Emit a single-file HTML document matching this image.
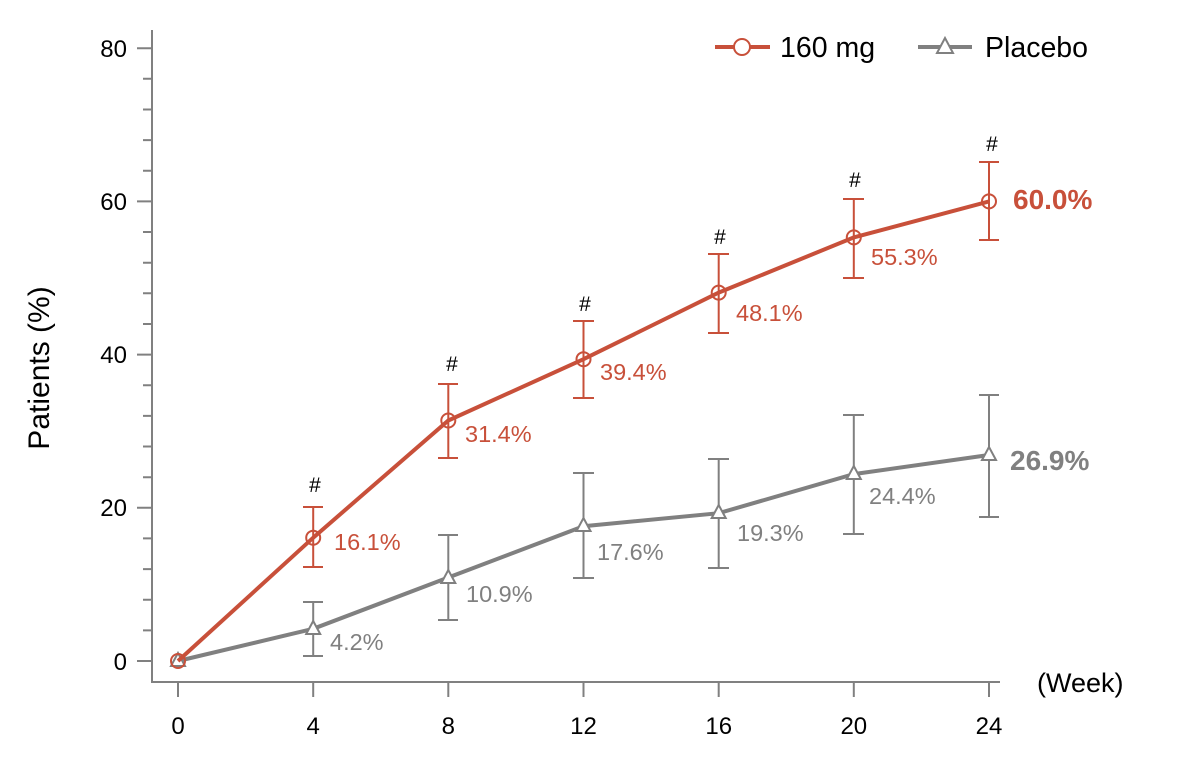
<!DOCTYPE html>
<html><head><meta charset="utf-8"><style>
html,body{margin:0;padding:0;background:#fff;}
svg{display:block;font-family:"Liberation Sans",sans-serif;}
</style></head><body>
<svg width="1194" height="758" viewBox="0 0 1194 758" xmlns="http://www.w3.org/2000/svg">
<g stroke="#808080" stroke-width="2" fill="none">
<path d="M152,30 V682 H1000"/>
<path d="M137,48.2H152 M137,201.4H152 M137,354.6H152 M137,507.8H152 M137,661H152"/>
<path d="M143,78.8H152 M143,109.5H152 M143,140.1H152 M143,170.8H152 M143,232H152 M143,262.7H152 M143,293.3H152 M143,324H152 M143,385.2H152 M143,415.9H152 M143,446.5H152 M143,477.2H152 M143,538.4H152 M143,569.1H152 M143,599.7H152 M143,630.4H152"/>
<path d="M178,682V697 M313.2,682V697 M448.3,682V697 M583.5,682V697 M718.7,682V697 M853.8,682V697 M989,682V697"/>
</g>
<g font-size="24" fill="#000" text-anchor="end">
<text x="127" y="57">80</text><text x="127" y="210">60</text><text x="127" y="363">40</text><text x="127" y="516">20</text><text x="127" y="670">0</text>
</g>
<g font-size="24" fill="#000" text-anchor="middle">
<text x="178" y="734">0</text><text x="313.2" y="734">4</text><text x="448.3" y="734">8</text><text x="583.5" y="734">12</text><text x="718.7" y="734">16</text><text x="853.8" y="734">20</text><text x="989" y="734">24</text>
</g>
<text x="1037" y="692" font-size="27" fill="#000">(Week)</text>
<text transform="translate(49,368) rotate(-90)" text-anchor="middle" font-size="30" fill="#000">Patients (%)</text>

<g stroke="#808080" stroke-width="2" fill="none">
<path d="M313.2,602V656 M303,602H323 M303,656H323"/>
<path d="M448.3,535V620 M438,535H458 M438,620H458"/>
<path d="M583.5,473V578 M573,473H594 M573,578H594"/>
<path d="M718.7,459V568 M708,459H729 M708,568H729"/>
<path d="M853.8,415V534 M843,415H864 M843,534H864"/>
<path d="M989,395V517 M979,395H999 M979,517H999"/>
</g>
<polyline points="178,661 313.2,628.8 448.3,577.5 583.5,526.2 718.7,513.2 853.8,474.1 989,455" stroke="#808080" stroke-width="4" fill="none"/>
<g stroke="#808080" stroke-width="2" fill="#fff">
<path d="M178,653 l-7,13 h14z"/><path d="M313.2,621 l-7,13 h14z"/><path d="M448.3,570 l-7,13 h14z"/><path d="M583.5,518 l-7,13 h14z"/><path d="M718.7,505 l-7,13 h14z"/><path d="M853.8,466 l-7,13 h14z"/><path d="M989,447 l-7,13 h14z"/>
</g>

<g stroke="#c8503a" stroke-width="2" fill="none">
<path d="M313.2,507V567 M303,507H323 M303,567H323"/>
<path d="M448.3,384V458 M438,384H458 M438,458H458"/>
<path d="M583.5,321V398 M573,321H594 M573,398H594"/>
<path d="M718.7,254V333 M708,254H729 M708,333H729"/>
<path d="M853.8,199V278 M843,199H864 M843,278H864"/>
<path d="M989,162V240 M979,162H999 M979,240H999"/>
</g>
<polyline points="178,661 313.2,537.7 448.3,420.5 583.5,359.2 718.7,292.6 853.8,237.4 989,201.4" stroke="#c8503a" stroke-width="4" fill="none"/>
<g stroke="#c8503a" stroke-width="2" fill="none">
<circle cx="178" cy="661" r="7"/><circle cx="313.2" cy="537.7" r="7"/><circle cx="448.3" cy="420.5" r="7"/><circle cx="583.5" cy="359.2" r="7"/><circle cx="718.7" cy="292.6" r="7"/><circle cx="853.8" cy="237.4" r="7"/><circle cx="989" cy="201.4" r="7"/>
</g>

<g font-size="21" fill="#000" text-anchor="middle">
<text x="315" y="492">#</text><text x="452" y="371">#</text><text x="585" y="311">#</text><text x="720" y="244">#</text><text x="855" y="187">#</text><text x="992" y="151">#</text>
</g>
<g font-size="23.5" fill="#c8503a">
<text x="334" y="550">16.1%</text><text x="465" y="442">31.4%</text><text x="600" y="380">39.4%</text><text x="736" y="321">48.1%</text><text x="871" y="265">55.3%</text>
<text x="1013" y="209" font-size="28" font-weight="bold">60.0%</text>
</g>
<g font-size="23.5" fill="#808080">
<text x="330" y="650">4.2%</text><text x="466" y="602">10.9%</text><text x="597" y="560">17.6%</text><text x="737" y="541">19.3%</text><text x="869" y="504">24.4%</text>
<text x="1010" y="470" font-size="28" font-weight="bold">26.9%</text>
</g>

<path d="M715,47H770" stroke="#c8503a" stroke-width="4"/>
<circle cx="742" cy="47" r="8" stroke="#c8503a" stroke-width="2" fill="#fff"/>
<text x="780" y="57" font-size="28.5" fill="#000">160 mg</text>
<path d="M918,47H972" stroke="#808080" stroke-width="4"/>
<path d="M945,38 l-8,15 h16z" stroke="#808080" stroke-width="2" fill="#fff"/>
<text x="985" y="57" font-size="28.5" fill="#000">Placebo</text>
</svg>
</body></html>
